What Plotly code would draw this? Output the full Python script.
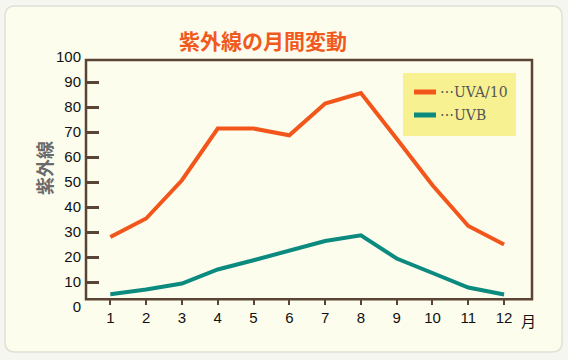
import plotly.graph_objects as go

# ---- data ----
months = list(range(1, 13))
month_labels = [str(m) for m in months]
uva10 = [28.0, 35.4, 50.7, 71.4, 71.4, 68.7, 81.4, 85.6, 67.3, 48.7, 32.4, 25.0]
uvb = [5.1, 7.0, 9.4, 15.0, 18.7, 22.7, 26.4, 28.7, 19.4, 13.6, 7.8, 5.0]
series_names = ["⋯UVA/10", "⋯UVB"]
y_ticks = list(range(0, 101, 10))
y_tick_labels = [str(v) for v in y_ticks]
title_text = "紫外線の月間変動"
y_title = "紫外線"
x_unit = "月"

# ---- layout geometry (pixels) ----
W, H = 568, 360
L, R, T, B = 86, 36, 57, 53
PX0, PX1 = L, W - R
PY0, PY1 = T, H - B


def px(x):
    return (x - PX0) / (PX1 - PX0)


def py(y):
    return (PY1 - y) / (PY1 - PY0)


ORANGE = "#f2561b"
TEAL = "#0b8a7f"
BROWN = "#5a4535"
CREAM = "#fdfdee"
CJK = "Noto Sans CJK JP"

fig = go.Figure()
colors = [ORANGE, TEAL]
for name, vals, col in zip(series_names, [uva10, uvb], colors):
    fig.add_trace(go.Scatter(x=months, y=vals, mode="lines", name=name,
                             line=dict(color=col, width=4), showlegend=False,
                             hoverinfo="skip"))
# helper invisible trace for tick axis
fig.add_trace(go.Scatter(x=months, y=uvb, yaxis="y2", mode="lines", opacity=0,
                         showlegend=False, hoverinfo="skip"))

shapes = []
cx0, cy0, cx1, cy1, r = 5, 6, 562, 352, 10


def P(x, y):
    return f"{px(x):.5f},{py(y):.5f}"


path = (f"M {P(cx0 + r, cy0)} L {P(cx1 - r, cy0)} Q {P(cx1, cy0)} {P(cx1, cy0 + r)} "
        f"L {P(cx1, cy1 - r)} Q {P(cx1, cy1)} {P(cx1 - r, cy1)} "
        f"L {P(cx0 + r, cy1)} Q {P(cx0, cy1)} {P(cx0, cy1 - r)} "
        f"L {P(cx0, cy0 + r)} Q {P(cx0, cy0)} {P(cx0 + r, cy0)} Z")
shapes.append(dict(type="path", xref="paper", yref="paper", path=path,
                   fillcolor=CREAM, line=dict(color="#e0e0d6", width=1.5), layer="below"))
# plot frame
shapes.append(dict(type="rect", xref="paper", yref="paper",
                   x0=px(86), x1=px(532), y0=py(299.3), y1=py(60),
                   line=dict(color=BROWN, width=2.5), fillcolor="rgba(0,0,0,0)", layer="above"))
# legend box
shapes.append(dict(type="rect", xref="paper", yref="paper",
                   x0=px(403), x1=px(516), y0=py(136), y1=py(73),
                   line=dict(width=0), fillcolor="#f7f192", layer="below"))
annotations = []
for i, (name, col) in enumerate(zip(series_names, colors)):
    yy = 92 + i * 23
    shapes.append(dict(type="line", xref="paper", yref="paper",
                       x0=px(414), x1=px(436), y0=py(yy), y1=py(yy),
                       line=dict(color=col, width=5)))
    annotations.append(dict(x=px(438), y=py(yy), xref="paper", yref="paper",
                            text=name, showarrow=False, xanchor="left", yanchor="middle",
                            font=dict(family="DejaVu Serif", size=14, color="#555555")))

annotations.append(dict(x=px(262.5), y=py(40), xref="paper", yref="paper", text=f"<b>{title_text}</b>",
                        showarrow=False, xanchor="center", yanchor="middle",
                        font=dict(family=CJK, size=21, color="#f05a1e")))
annotations.append(dict(x=px(44), y=py(168), xref="paper", yref="paper", text=f"<b>{y_title}</b>",
                        showarrow=False, textangle=-90, xanchor="center", yanchor="middle",
                        font=dict(family=CJK, size=18, color="#6a6a6a")))
annotations.append(dict(x=px(528), y=py(320), xref="paper", yref="paper", text=x_unit,
                        showarrow=False, xanchor="center", yanchor="middle",
                        font=dict(family=CJK, size=15, color="#111111")))

fig.update_layout(
    width=W, height=H,
    margin=dict(l=L, r=R, t=T, b=B),
    paper_bgcolor="#f6f6f1",
    plot_bgcolor="rgba(0,0,0,0)",
    showlegend=False,
    shapes=shapes,
    annotations=annotations,
    xaxis=dict(range=[0.32, 12.78], tickvals=months, ticktext=month_labels,
               anchor="free", position=py(299.3), showgrid=False, zeroline=False,
               showline=False, ticks="outside", ticklen=5, tickwidth=2, tickcolor=BROWN,
               tickfont=dict(family="Liberation Sans", size=15, color="#111111")),
    yaxis=dict(range=[0, 100], tickvals=y_ticks, ticktext=y_tick_labels, ticks="",
               showgrid=False, zeroline=False, showline=False, ticklabelstandoff=4,
               tickfont=dict(family="Liberation Sans", size=15, color="#111111")),
    yaxis2=dict(range=[0, 100], overlaying="y", side="left", anchor="x",
                tickvals=y_ticks[1:-1], ticks="inside", ticklen=13, tickwidth=2.5,
                tickcolor=BROWN, showticklabels=False, showgrid=False, zeroline=False,
                showline=False),
)

fig.write_html("out.html", config={"displayModeBar": False},
               post_script="document.body.style.margin='0';document.body.style.overflow='hidden';")
